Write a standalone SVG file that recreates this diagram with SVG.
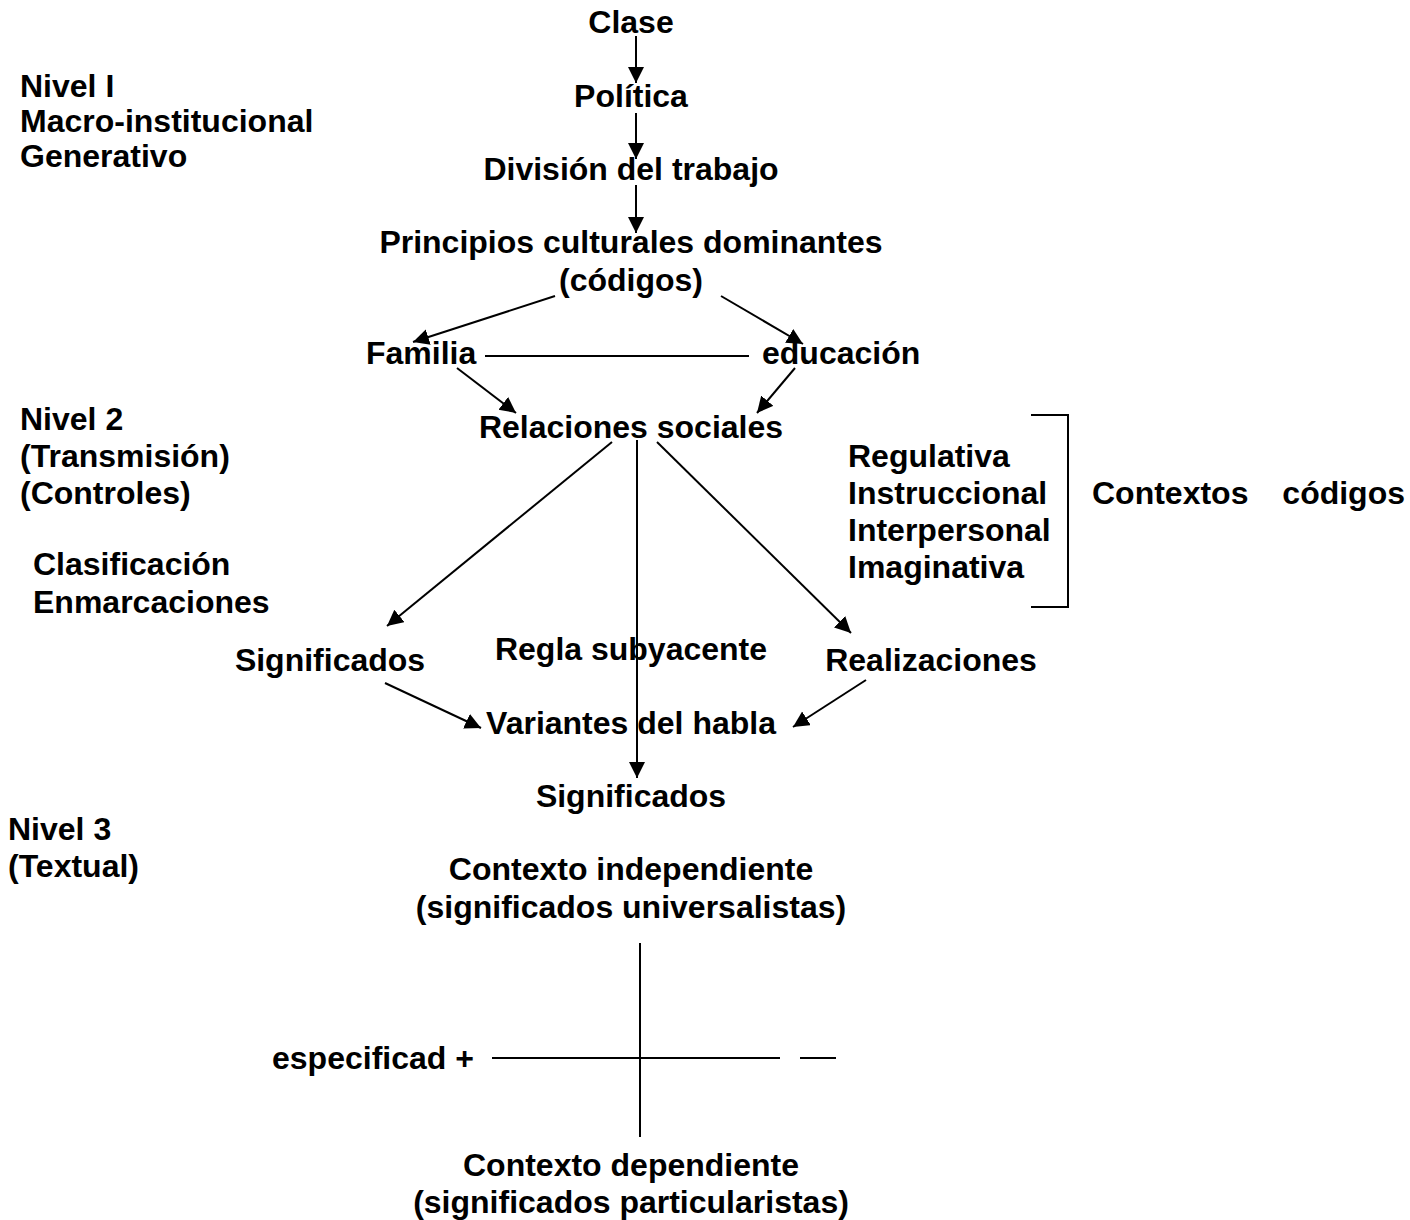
<svg xmlns="http://www.w3.org/2000/svg" width="1410" height="1220" viewBox="0 0 1410 1220">
<style>
text{font-family:"Liberation Sans",Arial,sans-serif;font-weight:bold;font-size:32px;fill:#000}
.c{text-anchor:middle}
.ln{stroke:#000;stroke-width:2;fill:none}
.ar{stroke:#000;stroke-width:2;fill:none;marker-end:url(#ah)}
</style>
<defs>
<marker id="ah" markerUnits="userSpaceOnUse" markerWidth="17" markerHeight="17" refX="16" refY="8" orient="auto" viewBox="0 0 17 17">
<path d="M0,0 L16,8 L0,16 Z" fill="#000"/>
</marker>
</defs>
<rect width="1410" height="1220" fill="#fff"/>
<g id="labels-left">
<text x="20" y="97">Nivel I</text>
<text x="20" y="132">Macro-institucional</text>
<text x="20" y="167">Generativo</text>
<text x="20" y="430">Nivel 2</text>
<text x="20" y="467">(Transmisión)</text>
<text x="20" y="504">(Controles)</text>
<text x="33" y="575">Clasificación</text>
<text x="33" y="613">Enmarcaciones</text>
<text x="8" y="840">Nivel 3</text>
<text x="8" y="877">(Textual)</text>
</g>
<g id="n-clase"><text class="c" x="631" y="33">Clase</text></g>
<g id="n-politica"><text class="c" x="631" y="107">Política</text></g>
<g id="n-division"><text class="c" x="631" y="180">División del trabajo</text></g>
<g id="n-principios"><text class="c" x="631" y="253">Principios culturales dominantes</text><text class="c" x="631" y="291">(códigos)</text></g>
<g id="n-familia"><text x="366" y="364">Familia</text></g>
<g id="n-educacion"><text x="762" y="364">educación</text></g>
<g id="n-relaciones"><text class="c" x="631" y="438">Relaciones sociales</text></g>
<g id="n-funciones">
<text x="848" y="467">Regulativa</text>
<text x="848" y="504">Instruccional</text>
<text x="848" y="541">Interpersonal</text>
<text x="848" y="578">Imaginativa</text>
</g>
<g id="n-contextos"><text x="1092" y="504">Contextos</text><text x="1405" y="504" text-anchor="end">códigos</text></g>
<g id="n-significados1"><text class="c" x="330" y="671">Significados</text></g>
<g id="n-regla"><text class="c" x="631" y="660">Regla subyacente</text></g>
<g id="n-realizaciones"><text class="c" x="931" y="671">Realizaciones</text></g>
<g id="n-variantes"><text class="c" x="631" y="734">Variantes del habla</text></g>
<g id="n-significados2"><text class="c" x="631" y="807">Significados</text></g>
<g id="n-independiente"><text class="c" x="631" y="880">Contexto independiente</text><text class="c" x="631" y="918">(significados universalistas)</text></g>
<g id="n-especificad"><text x="272" y="1069">especificad +</text></g>
<g id="n-dependiente"><text class="c" x="631" y="1176">Contexto dependiente</text><text class="c" x="631" y="1213">(significados particularistas)</text></g>
<g id="connectors">
<line class="ar" x1="636" y1="36" x2="636" y2="83"/>
<line class="ar" x1="636" y1="113" x2="636" y2="159"/>
<line class="ar" x1="636" y1="185" x2="636" y2="233"/>
<line class="ar" x1="555" y1="296" x2="413" y2="342"/>
<line class="ar" x1="721" y1="296" x2="803" y2="344"/>
<line class="ln" x1="485" y1="356" x2="749" y2="356"/>
<line class="ar" x1="457" y1="368" x2="516" y2="413"/>
<line class="ar" x1="795" y1="368" x2="757" y2="413"/>
<line class="ar" x1="612" y1="442" x2="387" y2="626"/>
<line class="ar" x1="637" y1="440" x2="637" y2="778"/>
<line class="ar" x1="657" y1="442" x2="851" y2="633"/>
<line class="ar" x1="385" y1="683" x2="481" y2="728"/>
<line class="ar" x1="866" y1="680" x2="793" y2="727"/>
<polyline class="ln" points="1031,415 1068,415 1068,607 1031,607"/>
<line class="ln" x1="640" y1="943" x2="640" y2="1137"/>
<line class="ln" x1="492" y1="1058" x2="780" y2="1058"/>
<line class="ln" x1="800" y1="1058" x2="836" y2="1058"/>
</g>
</svg>
